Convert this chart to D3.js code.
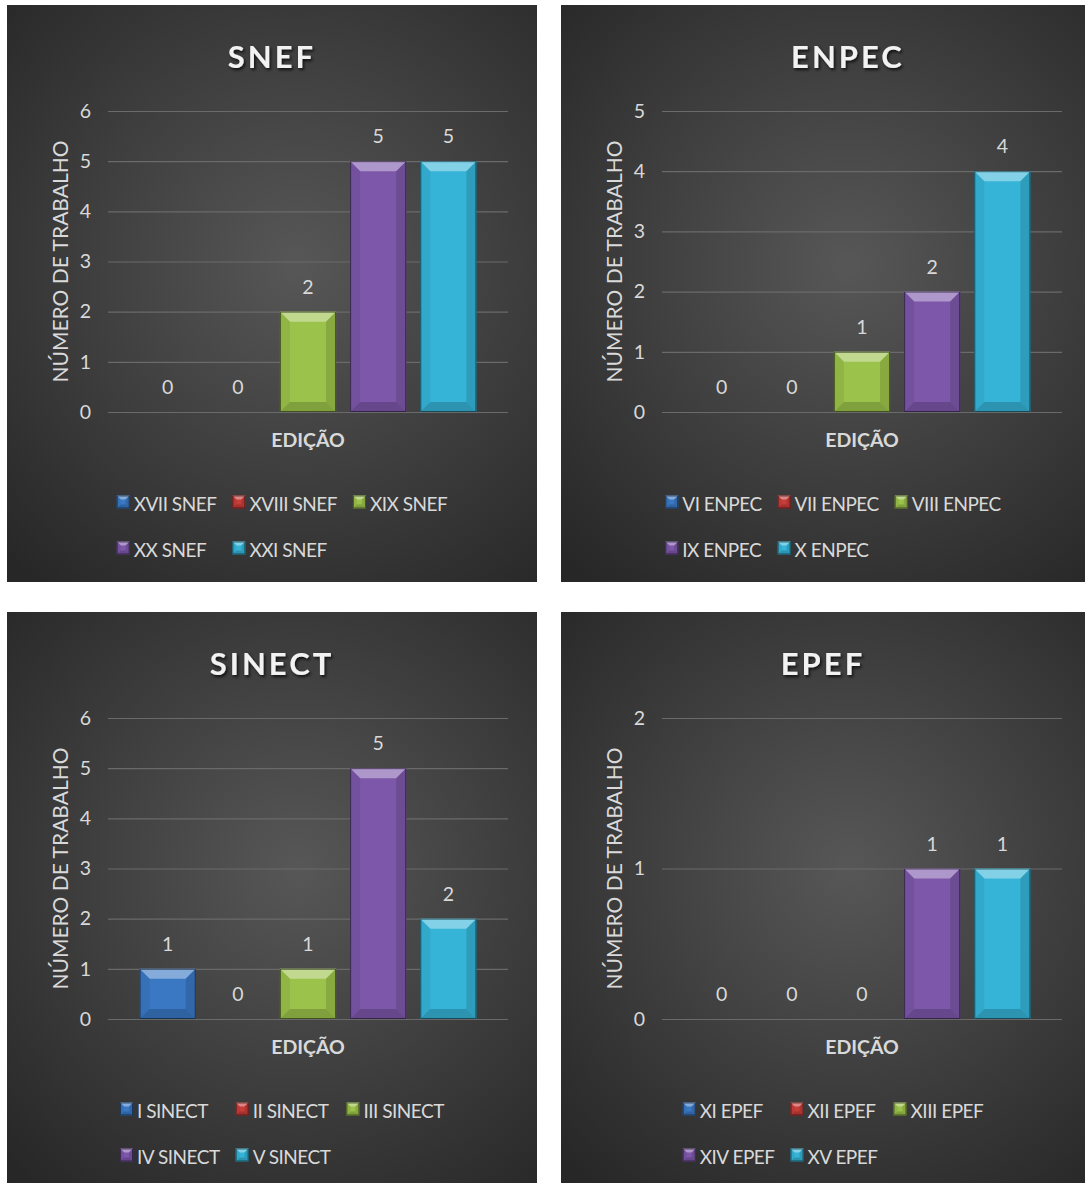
<!DOCTYPE html>
<html>
<head>
<meta charset="utf-8">
<script src="https://cdn.jsdelivr.net/npm/d3@7"></script>
<style>
  html, body { margin: 0; padding: 0; background: #ffffff; }
  svg { display: block; }
</style>
</head>
<body>
<script>
// ---------------- DATA ----------------
const chartTitles = ["SNEF", "ENPEC", "SINECT", "EPEF"];

const snefEditions = ["XVII SNEF", "XVIII SNEF", "XIX SNEF", "XX SNEF", "XXI SNEF"];
const snefValues   = [0, 0, 2, 5, 5];
const snefTicks    = [0, 1, 2, 3, 4, 5, 6];

const enpecEditions = ["VI ENPEC", "VII ENPEC", "VIII ENPEC", "IX ENPEC", "X ENPEC"];
const enpecValues   = [0, 0, 1, 2, 4];
const enpecTicks    = [0, 1, 2, 3, 4, 5];

const sinectEditions = ["I SINECT", "II SINECT", "III SINECT", "IV SINECT", "V SINECT"];
const sinectValues   = [1, 0, 1, 5, 2];
const sinectTicks    = [0, 1, 2, 3, 4, 5, 6];

const epefEditions = ["XI EPEF", "XII EPEF", "XIII EPEF", "XIV EPEF", "XV EPEF"];
const epefValues   = [0, 0, 0, 1, 1];
const epefTicks    = [0, 1, 2];

const yAxisTitle = "NÚMERO DE TRABALHO";
const xAxisTitle = "EDIÇÃO";

// ---------------- STYLE ----------------
const W = 1085, H = 1183;
const seriesColors = ["#3a78c4", "#c63d3a", "#9bc24a", "#7d57a9", "#36b4d8"];
const FONT = "Lato, 'Open Sans', sans-serif";
const textColor = "#d9d9d9";

const panels = [
  { title: chartTitles[0], cats: snefEditions,   vals: snefValues,   ticks: snefTicks,   x: 7,   y: 5,   w: 530, h: 577, tdx: 0 },
  { title: chartTitles[1], cats: enpecEditions,  vals: enpecValues,  ticks: enpecTicks,  x: 561, y: 5,   w: 524, h: 577, tdx: 25 },
  { title: chartTitles[2], cats: sinectEditions, vals: sinectValues, ticks: sinectTicks, x: 7,   y: 612, w: 530, h: 571, tdx: 0 },
  { title: chartTitles[3], cats: epefEditions,   vals: epefValues,   ticks: epefTicks,   x: 561, y: 612, w: 524, h: 571, tdx: 0 }
];

const svg = d3.select("body").append("svg")
  .attr("width", W).attr("height", H)
  .attr("viewBox", `0 0 ${W} ${H}`);

const defs = svg.append("defs");
const filt = defs.append("filter").attr("id", "tshadow").attr("x", "-20%").attr("y", "-20%").attr("width", "140%").attr("height", "160%");
filt.append("feDropShadow").attr("dx", 1.5).attr("dy", 2).attr("stdDeviation", 1.6).attr("flood-color", "#000").attr("flood-opacity", 0.75);

function bevel(g, x, y, w, h, color, b) {
  const c = d3.color(color);
  const light = d3.interpolateRgb(color, "#ffffff")(0.38);
  const dark1 = c.darker(0.35).formatHex();
  const dark2 = c.darker(0.7).formatHex();
  const bb = Math.min(b, w / 2, h / 2);
  g.append("rect").attr("x", x).attr("y", y).attr("width", w).attr("height", h).attr("fill", color);
  if (h <= 0) return;
  g.append("polygon").attr("points", [[x, y], [x + w, y], [x + w - bb, y + bb], [x + bb, y + bb]].join(" ")).attr("fill", light);
  g.append("polygon").attr("points", [[x, y], [x + bb, y + bb], [x + bb, y + h - bb], [x, y + h]].join(" ")).attr("fill", dark1).attr("opacity", 0.55);
  g.append("polygon").attr("points", [[x + w, y], [x + w - bb, y + bb], [x + w - bb, y + h - bb], [x + w, y + h]].join(" ")).attr("fill", dark2).attr("opacity", 0.6);
  g.append("polygon").attr("points", [[x, y + h], [x + bb, y + h - bb], [x + w - bb, y + h - bb], [x + w, y + h]].join(" ")).attr("fill", dark2).attr("opacity", 0.8);
  g.append("rect").attr("x", x + 0.5).attr("y", y + 0.5).attr("width", w - 1).attr("height", h - 1)
    .attr("fill", "none").attr("stroke", "#000").attr("stroke-opacity", 0.5).attr("stroke-width", 1);
}

panels.forEach((p, i) => {
  const g = svg.append("g");
  const gradId = "bg" + i;
  const grad = defs.append("radialGradient").attr("id", gradId)
    .attr("gradientUnits", "userSpaceOnUse")
    .attr("cx", p.x + p.w * 0.55).attr("cy", p.y + p.h * 0.45).attr("r", p.w * 0.78);
  grad.append("stop").attr("offset", "0%").attr("stop-color", "#575757");
  grad.append("stop").attr("offset", "100%").attr("stop-color", "#272727");

  g.append("rect").attr("x", p.x).attr("y", p.y).attr("width", p.w).attr("height", p.h).attr("fill", `url(#${gradId})`);

  const plotL = p.x + 101, plotR = p.x + 501;
  const plotT = p.y + 106, plotB = p.y + 407;
  const cx = (plotL + plotR) / 2;

  const y = d3.scaleLinear().domain([0, d3.max(p.ticks)]).range([plotB, plotT]);
  const x = d3.scaleBand().domain(p.cats).range([plotL, plotR]).paddingInner(0.2).paddingOuter(0.45);

  // title
  g.append("text").attr("x", p.x + p.w / 2 + p.tdx).attr("y", p.y + 63)
    .attr("text-anchor", "middle").attr("font-family", FONT).attr("font-weight", 700)
    .attr("font-size", 31).attr("letter-spacing", 3).attr("fill", "#f2f2f2")
    .attr("filter", "url(#tshadow)").text(p.title);

  // gridlines via axis
  const yAxis = d3.axisLeft(y).tickValues(p.ticks).tickSize(-(plotR - plotL)).tickPadding(15).tickFormat(d3.format("d"));
  const ag = g.append("g").attr("transform", `translate(${plotL},0)`).call(yAxis);
  ag.select(".domain").remove();
  ag.selectAll(".tick line").attr("stroke", "#6a6a6a").attr("stroke-width", 1.2);
  ag.selectAll(".tick text").attr("fill", textColor).attr("font-family", FONT).attr("font-size", 19.5)
    .attr("x", -17);

  // y axis title
  g.append("text").attr("transform", `translate(${p.x + 52},${(plotT + plotB) / 2}) rotate(-90)`)
    .attr("text-anchor", "middle").attr("dominant-baseline", "central")
    .attr("font-family", FONT).attr("font-size", 21).attr("fill", textColor).text(yAxisTitle);

  // bars
  const bg = g.append("g");
  p.cats.forEach((c, j) => {
    const v = p.vals[j];
    const bx = x(c), bw = x.bandwidth();
    if (v > 0) {
      bevel(bg, bx, y(v), bw, y(0) - y(v), seriesColors[j], 10);
    }
    bg.append("text").attr("x", bx + bw / 2).attr("y", y(v) - 18)
      .attr("text-anchor", "middle").attr("font-family", FONT).attr("font-size", 19.5)
      .attr("fill", textColor).text(d3.format("d")(v));
  });

  // x axis title
  g.append("text").attr("x", cx).attr("y", p.y + 442).attr("text-anchor", "middle")
    .attr("font-family", FONT).attr("font-weight", 700).attr("font-size", 19.5).attr("fill", textColor).text(xAxisTitle);

  // legend
  const lg = g.append("g");
  const perRow = 3, mk = 13, gapT = 4, gapItem = 16;
  const rowsY = [p.y + 497, p.y + 543];
  const items = p.cats.map((c, j) => {
    const t = lg.append("text").attr("font-family", FONT).attr("font-size", 19).attr("fill", textColor)
      .attr("letter-spacing", -0.5).attr("dominant-baseline", "central").text(c);
    return { t, w: t.node().getComputedTextLength(), j };
  });
  const colW = [];
  items.forEach((it, k) => {
    const col = k % perRow;
    colW[col] = Math.max(colW[col] || 0, mk + gapT + it.w);
  });
  const totalW = d3.sum(colW) + gapItem * (colW.length - 1);
  const startX = p.x + p.w / 2 - totalW / 2 + 10;
  items.forEach((it, k) => {
    const col = k % perRow, row = Math.floor(k / perRow);
    const ix = startX + d3.sum(colW.slice(0, col)) + gapItem * col;
    const iy = rowsY[row];
    const mg = lg.append("g");
    bevel(mg, ix, iy - mk / 2, mk, mk, seriesColors[it.j], 4);
    it.t.attr("x", ix + mk + gapT).attr("y", iy + 1);
  });
});
</script>
</body>
</html>
